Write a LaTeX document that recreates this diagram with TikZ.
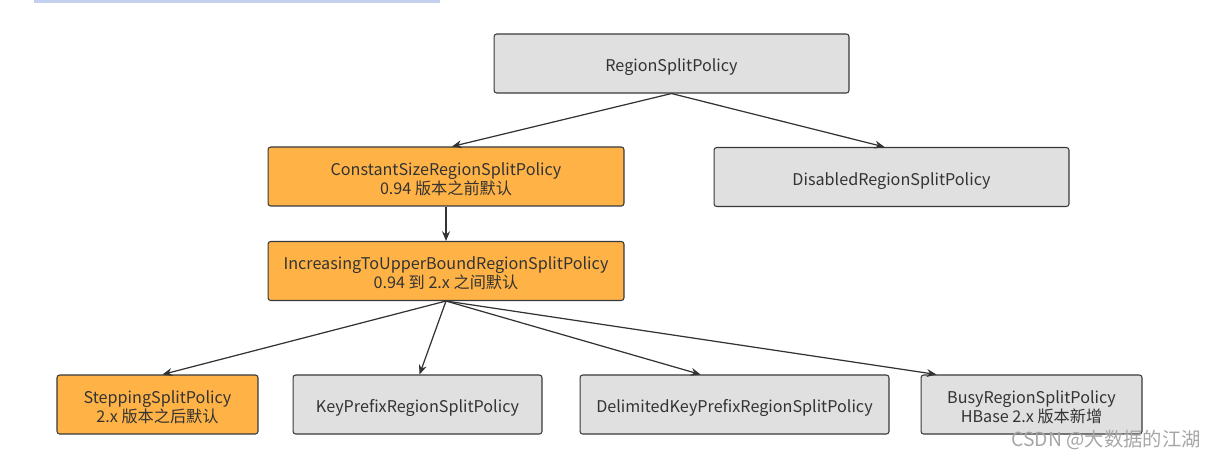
\documentclass[tikz,border=0pt]{standalone}
\usepackage{fontspec}
\setmainfont{Noto Sans CJK SC}
\usetikzlibrary{arrows.meta,calc}
\definecolor{boxgray}{HTML}{E0E0E0}
\definecolor{boxorange}{HTML}{FFB347}
\definecolor{boxline}{HTML}{36393D}
\definecolor{topbar}{HTML}{C3D1EE}
\begin{document}
\begin{tikzpicture}[x=0.02cm,y=-0.02cm,
    policy/.style={draw=boxline,line width=0.6pt,fill=boxgray,rounded corners=1.5pt,
      minimum height=1.18cm,align=center,text=black!80,text height=11.5pt,
      font=\fontsize{9.2}{10.8}\selectfont},
    twoline/.style={text height=21pt},
    default/.style={policy,fill=boxorange},
    edge/.style={-{Stealth[length=5.5pt,width=4.5pt]},line width=0.7pt,draw=black!80}]
    \useasboundingbox (0,0) rectangle (1222,460);
    \fill[topbar] (34,0) rectangle (440,2.5);

    \node[policy,minimum width=7.1cm] (root) at (671.5,63.5) {RegionSplitPolicy};
    \node[default,twoline,minimum width=7.12cm] (const) at (446,176.5) {ConstantSizeRegionSplitPolicy\\0.94 版本之前默认};
    \node[policy,minimum width=7.1cm] (dis) at (891.5,177) {DisabledRegionSplitPolicy};
    \node[default,twoline,minimum width=7.12cm] (incr) at (446,271) {IncreasingToUpperBoundRegionSplitPolicy\\0.94 到 2.x 之间默认};
    \node[default,twoline,minimum width=4.02cm] (stepping) at (157.5,404.5) {SteppingSplitPolicy\\2.x 版本之后默认};
    \node[policy,minimum width=4.98cm] (keyprefix) at (417.5,404.5) {KeyPrefixRegionSplitPolicy};
    \node[policy,minimum width=6.18cm] (delimited) at (734.5,404.5) {DelimitedKeyPrefixRegionSplitPolicy};
    \node[policy,twoline,minimum width=4.42cm] (busy) at (1031.5,404.5) {BusyRegionSplitPolicy\\HBase 2.x 版本新增};

    \draw[edge] (root.south) -- ($(const.north)+(6,0)$);
    \draw[edge] (root.south) -- ($(dis.north)+(-7,0)$);
    \draw[edge] (const) -- (incr);
    \draw[edge] (incr.south) -- ($(stepping.north)+(5,0)$);
    \draw[edge] (incr.south) -- ($(keyprefix.north)+(2,0)$);
    \draw[edge] (incr.south) -- ($(delimited.north)+(-34,0)$);
    \draw[edge] (incr.south) -- ($(busy.north)+(-95,0)$);

    \node[text=black!35,font=\fontsize{11}{13}\selectfont,anchor=east] (mark) at (1207,440) {CSDN @大数据的江湖};
\end{tikzpicture}
\end{document}
